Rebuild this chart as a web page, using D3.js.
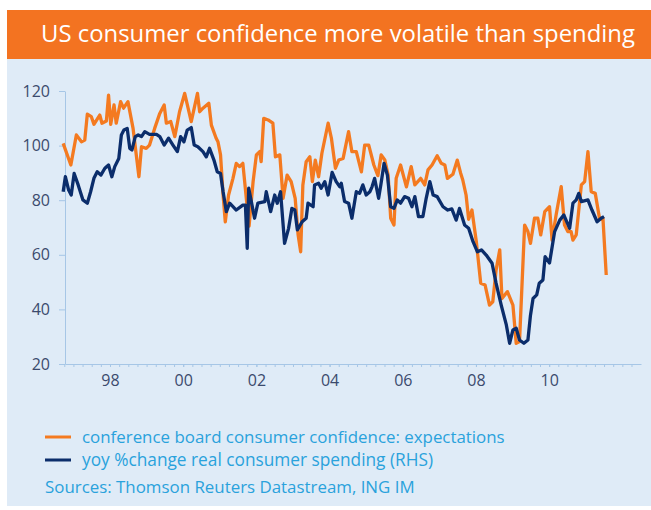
<!DOCTYPE html>
<html>
<head>
<meta charset="utf-8">
<script src="https://cdn.jsdelivr.net/npm/d3@7"></script>
<style>
  html, body { margin: 0; padding: 0; background: #ffffff; }
  svg { display: block; }
</style>
</head>
<body>
<svg id="chart" width="651" height="510"></svg>
<script>
// ---------------- DATA ----------------
const titleText = "US consumer confidence more volatile than spending";
const seriesNames = [
  "conference board consumer confidence: expectations",
  "yoy %change real consumer spending (RHS)"
];
const sourceText = "Sources: Thomson Reuters Datastream, ING IM";

const yTicks = [20, 40, 60, 80, 100, 120];
const xTickYears = [1998, 2000, 2002, 2004, 2006, 2008, 2010];
const xTickLabels = ["98", "00", "02", "04", "06", "08", "10"];

// Confidence expectations index (orange), decimal year
const confDates = [1996.72,1996.93,1997.08,1997.22,1997.31,1997.38,1997.49,1997.56,1997.72,1997.78,1997.90,1997.96,
  1998.02,1998.11,1998.17,1998.29,1998.37,1998.49,1998.63,1998.79,1998.86,1998.99,1999.08,1999.22,1999.36,1999.48,
  1999.54,1999.66,1999.77,1999.90,2000.04,2000.22,2000.39,2000.45,2000.54,2000.70,2000.77,2000.90,2000.95,2001.02,
  2001.09,2001.15,2001.24,2001.36,2001.45,2001.54,2001.63,2001.80,2001.91,2002.00,2002.09,2002.13,2002.20,2002.32,
  2002.45,2002.52,2002.64,2002.73,2002.84,2002.95,2003.06,2003.14,2003.21,2003.27,2003.36,2003.46,2003.53,2003.61,
  2003.70,2003.79,2003.96,2004.05,2004.16,2004.25,2004.37,2004.52,2004.61,2004.73,2004.87,2004.96,2005.07,2005.21,
  2005.32,2005.41,2005.51,2005.60,2005.67,2005.76,2005.82,2005.94,2006.10,2006.23,2006.33,2006.49,2006.60,2006.69,
  2006.80,2006.94,2007.05,2007.15,2007.22,2007.37,2007.49,2007.58,2007.64,2007.73,2007.80,2007.89,2008.01,2008.13,
  2008.25,2008.37,2008.46,2008.55,2008.65,2008.71,2008.86,2009.01,2009.10,2009.19,2009.33,2009.42,2009.49,2009.60,
  2009.69,2009.77,2009.88,2010.01,2010.08,2010.19,2010.33,2010.42,2010.51,2010.60,2010.65,2010.74,2010.88,2010.97,
  2011.06,2011.15,2011.26,2011.38,2011.47,2011.56];
const confValues = [100.8,92.9,103.9,101.4,102,111.5,110.6,107.8,111.2,108.2,109,118.5,
  107.8,114.9,108.2,116.1,113.7,116.1,106.3,88.6,99.6,99,100.2,106.3,111.8,114.9,
  108.2,108.8,103.3,112.4,119.1,108.8,119.1,112.4,113.7,115.5,107.5,102.7,101.4,96.6,
  81.9,72.1,81.9,88,93.5,92.3,93.5,70.5,86.8,96.6,97.8,94.1,110,109.4,
  108.2,95.9,96.6,80.7,89.2,86.8,80.7,67.3,61.1,85.6,94.1,95.9,86.8,94.7,
  88.6,97.2,108.2,102.7,91.7,94.7,95.3,105.1,97.8,97.8,90.4,100.2,100.2,92.9,
  89,96.6,94.7,89.2,73.4,70.9,88,92.9,84.9,92.3,85.6,88,85.6,91.1,
  92.9,96.3,93.5,92.9,88,89.5,94.7,90,87.4,81.9,73,76.4,64.8,49.6,
  48.9,41.6,42.8,54.4,61.8,44,46.5,41.6,27.6,28.2,70.9,68.5,64.2,73.4,
  73.4,67.3,75.8,77.6,65.4,74.6,85,70.9,68.5,68.5,65.4,67.3,85.6,86.8,
  97.8,83.1,82.5,73,73.4,52.6];

// Real consumer spending yoy (navy, RHS) — values read against the left-hand grid
const spendDates = [1996.72,1996.78,1996.87,1996.94,1997.02,1997.13,1997.26,1997.38,1997.47,1997.56,1997.65,1997.75,
  1997.86,1997.96,1998.05,1998.13,1998.24,1998.31,1998.38,1998.47,1998.54,1998.60,1998.69,1998.77,1998.86,1998.95,
  1999.08,1999.27,1999.36,1999.48,1999.60,1999.72,1999.84,1999.93,2000.02,2000.11,2000.22,2000.30,2000.40,2000.54,
  2000.63,2000.72,2000.84,2000.93,2001.02,2001.09,2001.18,2001.27,2001.45,2001.63,2001.70,2001.75,2001.79,2001.95,
  2002.04,2002.23,2002.27,2002.39,2002.50,2002.57,2002.66,2002.77,2002.88,2002.97,2003.05,2003.12,2003.25,2003.36,
  2003.41,2003.55,2003.59,2003.70,2003.77,2003.87,2003.96,2004.07,2004.18,2004.28,2004.32,2004.41,2004.52,2004.61,
  2004.73,2004.82,2004.91,2005.00,2005.10,2005.16,2005.23,2005.34,2005.40,2005.49,2005.58,2005.67,2005.76,2005.85,
  2005.94,2006.05,2006.16,2006.25,2006.33,2006.43,2006.55,2006.64,2006.74,2006.83,2006.94,2007.10,2007.23,2007.34,
  2007.46,2007.55,2007.69,2007.80,2007.92,2008.04,2008.15,2008.28,2008.44,2008.55,2008.69,2008.83,2008.92,2009.01,
  2009.10,2009.19,2009.31,2009.42,2009.49,2009.56,2009.66,2009.73,2009.83,2009.89,2010.01,2010.15,2010.29,2010.40,
  2010.56,2010.65,2010.74,2010.81,2010.88,2011.06,2011.17,2011.31,2011.42,2011.50];
const spendValues = [83.1,88.6,83.7,81.9,89.8,85.6,80.1,78.9,83.1,88,90.4,89.2,
  91.7,92.9,88.6,92.3,95.3,103.9,105.7,106.3,99,98.4,103.3,103.9,103.3,105.1,
  104.1,104.1,103.3,100.2,102.7,100.2,97.8,103.3,101.4,105.7,106.6,100.2,99.6,97.8,
  95.9,99,94.7,90.4,89.8,83.1,75.8,78.9,76.4,78.2,78.2,62.4,84.4,73.4,
  78.9,79.5,83.1,75.8,81.9,78.9,83.1,64.2,69.7,77,76.4,69.1,72.1,73.4,
  78.9,77.6,85.6,86.2,84.4,86.8,81.9,90.2,86.8,84.9,86.2,79.5,78.9,73.4,
  83.1,82.5,85.6,81.9,83.1,84.9,88,80.7,85.6,93.5,89.2,77.6,77,80.1,
  78.9,81.3,80.7,77.6,81.3,74,74,80.7,86.8,81.9,81.3,77.6,76.4,76.8,
  72.7,77,70.9,69.7,64.8,61.1,61.8,59.9,56.9,49.6,41.6,34.3,27.6,32.5,
  33.1,28.8,27.6,28.8,37.9,44,45.3,49.6,50.8,59.3,57,68.5,72.7,74.6,
  69.7,78.9,80.1,82.5,79.5,80.1,76.4,72.1,73.4,74];

// ---------------- DRAWING ----------------
const C = {
  bar: "#f37321", panel: "#dfebf7", orange: "#f47a20", navy: "#0b2d6b",
  axis: "#a6c6e6", tickText: "#3b4a6d", legendText: "#2aa2dc"
};
const FONT = "'Open Sans', 'Noto Sans', sans-serif";

const svg = d3.select("#chart");

svg.append("rect").attr("x", 7).attr("y", 10).attr("width", 644).attr("height", 49).attr("fill", C.bar);
svg.append("rect").attr("x", 7).attr("y", 59).attr("width", 644).attr("height", 447).attr("fill", C.panel);

function fitText(sel, target, startSize) {
  sel.attr("font-size", startSize);
  const w = sel.node().getComputedTextLength();
  sel.attr("font-size", (startSize * target / w).toFixed(2));
}

const title = svg.append("text").attr("x", 41).attr("y", 42)
  .attr("fill", "#ffffff").attr("font-family", FONT).text(titleText);
fitText(title, 594, 23);

const x = d3.scaleLinear().domain([1996.77, 2012.51]).range([65, 641]);
const y = d3.scaleLinear().domain([20, 120]).range([364, 91]);

// Y axis
const yAxis = svg.append("g").attr("transform", "translate(65,0)")
  .call(d3.axisLeft(y).tickValues(yTicks).tickSize(6).tickSizeOuter(0).tickPadding(9));
yAxis.selectAll("path, line").attr("stroke", C.axis);
yAxis.selectAll("text").attr("fill", C.tickText).attr("font-size", 16).attr("font-family", FONT);

// X axis: quarterly minor ticks + year labels
const quarters = d3.range(1996.75, 2012.5, 0.25);
const xMinor = svg.append("g").attr("transform", "translate(0,364)")
  .call(d3.axisBottom(x).tickValues(quarters).tickSize(3).tickSizeOuter(0).tickFormat(""));
xMinor.selectAll("path, line").attr("stroke", C.axis);

const xMajor = svg.append("g").attr("transform", "translate(0,364)")
  .call(d3.axisBottom(x).tickValues(xTickYears).tickSize(3).tickSizeOuter(0).tickPadding(8)
    .tickFormat((d, i) => xTickLabels[i]));
xMajor.select("path").remove();
xMajor.selectAll("line").attr("stroke", C.axis);
xMajor.selectAll("text").attr("fill", C.tickText).attr("font-size", 16).attr("font-family", FONT);

// Lines
const conf = confDates.map((d, i) => ({ t: d, v: confValues[i] }));
const spend = spendDates.map((d, i) => ({ t: d, v: spendValues[i] }));
const line = d3.line().x(d => x(d.t)).y(d => y(d.v));

svg.append("path").datum(conf).attr("d", line)
  .attr("fill", "none").attr("stroke", C.orange).attr("stroke-width", 3.3).attr("stroke-linejoin", "round");
svg.append("path").datum(spend).attr("d", line)
  .attr("fill", "none").attr("stroke", C.navy).attr("stroke-width", 3.3).attr("stroke-linejoin", "round");

// Legend
const legendColors = [C.orange, C.navy];
const legendY = [437, 460];
const legendW = [423, 351];
seriesNames.forEach((name, i) => {
  svg.append("line").attr("x1", 45).attr("x2", 71).attr("y1", legendY[i]).attr("y2", legendY[i])
    .attr("stroke", legendColors[i]).attr("stroke-width", 3);
  const t = svg.append("text").attr("x", 82).attr("y", legendY[i]).attr("dy", "0.35em")
    .attr("fill", C.legendText).attr("font-family", FONT).text(name);
  fitText(t, legendW[i], 16);
});
const src = svg.append("text").attr("x", 45).attr("y", 487).attr("dy", "0.35em")
  .attr("fill", C.legendText).attr("font-family", FONT).text(sourceText);
fitText(src, 370, 16);
</script>
</body>
</html>
